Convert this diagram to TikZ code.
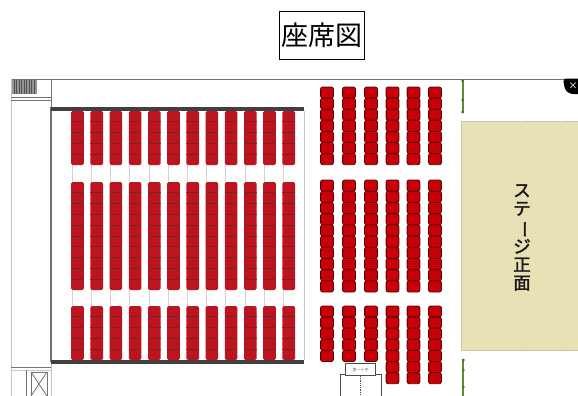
\documentclass[tikz,border=0pt]{standalone}
\usepackage{fontspec}
\newfontfamily\cjk{Noto Sans CJK JP}
\newfontfamily\cjkbold[FakeBold=2]{Noto Sans CJK JP}
\definecolor{seatL}{HTML}{BC1420}
\definecolor{seatR}{HTML}{C80008}
\definecolor{seatLine}{HTML}{702A18}
\definecolor{seatRLine}{HTML}{5A0004}
\definecolor{stagefill}{HTML}{E8E1B6}
\definecolor{wallgray}{HTML}{707070}
\definecolor{darkbar}{HTML}{404040}
\definecolor{greenline}{HTML}{5E8A3C}
\tikzset{
  wall/.style={draw=wallgray,line width=1pt},
  thickwall/.style={draw=wallgray,line width=1.3pt},
  thinwall/.style={draw=black!55,line width=0.7pt},
  palewall/.style={draw=black!22,line width=0.8pt},
  bar/.style={fill=darkbar,draw=none},
  seatl/.style={fill=seatL,draw=none,rounded corners=1.5pt},
  divl/.style={draw=seatLine,line width=1pt},
  seatr/.style={fill=seatR,draw=seatRLine,line width=0.8pt,rounded corners=2pt},
  aisle/.style={draw=black!18,line width=0.6pt},
  greenwall/.style={draw=greenline,line width=1.7pt},
  greendot/.style={fill=greenline!80!black,draw=none},
  titlebox/.style={draw=black,line width=1.1pt,inner sep=0pt,minimum width=85pt,minimum height=48pt,font=\cjk\fontsize{27}{27}\selectfont},
  stagelabel/.style={font=\cjkbold\fontsize{17.5}{18.2}\selectfont,align=center,inner sep=0pt,text=black!90},
}
\begin{document}
\begin{tikzpicture}[x=1pt,y=-1pt]
\useasboundingbox (0,0) rectangle (578,396);
% title
\node[titlebox] (title) at (322,35.5) {座席図};
% outer walls
\draw[wall] (11,79) -- (564,79);
\draw[palewall] (11,79) -- (11,396);
\draw[thinwall] (51,79) -- (51,107);
\draw[thickwall] (51,107) -- (51,362);
\draw[palewall] (51,362) -- (51,396);
\draw[thinwall] (11,97.3) -- (51,97.3);
\draw[thinwall] (11,100.6) -- (51,100.6);
\draw[thinwall] (11,367) -- (51,367);
\draw[palewall] (11,370) -- (51,370);
\draw[thinwall] (26,370) -- (26,396);
\draw[thinwall] (31,372) rectangle (47,396);
\draw[thinwall] (31,372) -- (47,396) (47,372) -- (31,396);
\draw[palewall] (304,111) -- (304,360);
% hatched box top left
\fill[black!42] (12,80) rectangle (37,94);
\foreach \x in {14,16.5,...,36} \draw[black!68,line width=0.5pt] (\x,80) -- (\x,94);
% corner close mark
\fill[black,rounded corners=3pt] (563,78.5) -- (582,78.5) -- (582,94) -- (570,94) -- (565,90) -- cycle;
\node[text=white!80!black,font=\sffamily\bfseries\fontsize{11}{11}\selectfont,inner sep=0pt] (closemark) at (573,86) {×};
% aisle lines between blocks, left section
\foreach \c in {0,...,11} {
  \pgfmathsetmacro{\x}{72+19.2*\c}
  \draw[aisle] (\x,165) -- (\x,182);
  \draw[aisle] (\x,290) -- (\x,306);
}
% left seats
\foreach \c in {0,...,11} {
  \pgfmathsetmacro{\x}{77.5+19.2*\c}
  \foreach \top/\n in {111/5,182/10,306/5} {
    \fill[seatl] (\x-6.3,\top) rectangle (\x+6.3,\top+\n*10.8);
    \pgfmathtruncatemacro{\last}{\n-1}
    \foreach \r in {1,...,\last}
      \draw[divl] (\x-6.3,\top+\r*10.8) -- (\x+6.3,\top+\r*10.8);
  }
}
% left section bars
\fill[bar] (51,107) rectangle (304,111);
\fill[bar] (51,360) rectangle (304,364);
% right seats
\foreach \xx/\n in {327/5,349/5,371/5,392.5/7,413.5/7,435/7} {
  \foreach \top/\m/\pitch in {87/7/11.1,180/10/11.2,306/\n/11.1} {
    \pgfmathtruncatemacro{\last}{\m-1}
    \foreach \r in {0,...,\last}
      \draw[seatr] (\xx-6.4,\top+\r*\pitch) rectangle (\xx+6.4,\top+\r*\pitch+\pitch);
  }
}
% bottom booth
\draw[draw=black!70,line width=0.8pt] (340,396) -- (340,374) -- (381,374) -- (381,396);
\draw[fill=white,draw=black!70,line width=0.8pt] (345.5,363.5) rectangle (375.5,375);
\node[inner sep=0pt,font=\cjk\fontsize{4}{4}\selectfont,text=black!60] (boothlabel) at (360.5,369.5) {第一十字};
\draw[densely dotted,black!70,line width=0.8pt] (360.5,376) -- (360.5,396);
% stage
\node[fill=stagefill,draw=stagefill!88!black,line width=0.6pt,anchor=north west,minimum width=130pt,minimum height=229.5pt,inner sep=0pt] (stage) at (461,120.5) {};
\draw[stagefill!98!black,line width=0.6pt] (520,121) -- (520,350) (560,121) -- (560,350);
\node[stagelabel] (stagetext) at (522,237.5) {ス\\テ\\\rotatebox[origin=c]{-90}{ー}\\ジ\\正\\面};
% green walls
\draw[greenwall] (462.7,79) -- (462.7,113);
\draw[greenwall] (463.3,359) -- (463.3,396);
\foreach \y in {81,100,112} \fill[greendot] (462.7,\y) circle (1.5pt);
\foreach \y in {360,370,387} \fill[greendot] (463.3,\y) circle (1.5pt);
\end{tikzpicture}
\end{document}
